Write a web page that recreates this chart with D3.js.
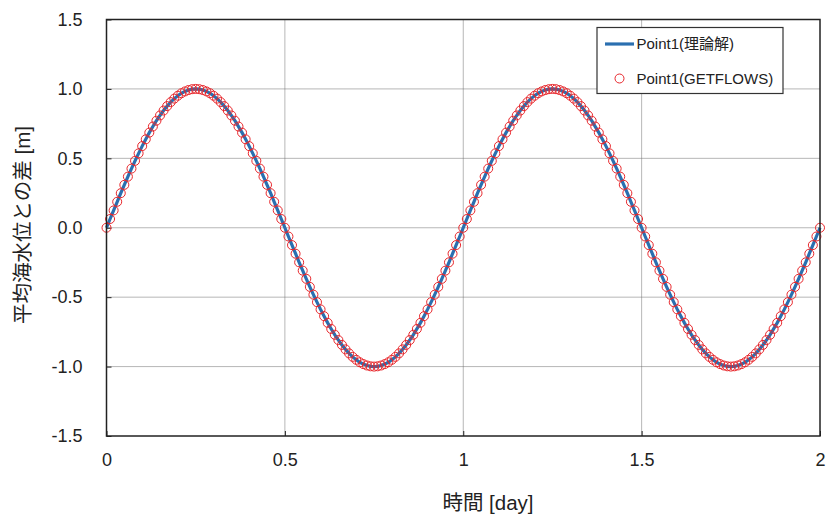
<!DOCTYPE html>
<html><head><meta charset="utf-8">
<script src="https://cdn.jsdelivr.net/npm/d3@7"></script>
<style>
html,body{margin:0;padding:0;background:#fff;}
svg{display:block;}
text{font-family:"Liberation Sans",Arial,"Noto Sans CJK JP",sans-serif;fill:#222;}
</style></head>
<body><svg id="chart" width="830" height="523"></svg>
<script>
const timeDays = [0,0.01,0.02,0.03,0.04,0.05,0.06,0.07,0.08,0.09,0.1,0.11,0.12,0.13,0.14,0.15,0.16,0.17,0.18,0.19,0.2,0.21,0.22,0.23,0.24,0.25,0.26,0.27,0.28,0.29,0.3,0.31,0.32,0.33,0.34,0.35,0.36,0.37,0.38,0.39,0.4,0.41,0.42,0.43,0.44,0.45,0.46,0.47,0.48,0.49,0.5,0.51,0.52,0.53,0.54,0.55,0.56,0.57,0.58,0.59,0.6,0.61,0.62,0.63,0.64,0.65,0.66,0.67,0.68,0.69,0.7,0.71,0.72,0.73,0.74,0.75,0.76,0.77,0.78,0.79,0.8,0.81,0.82,0.83,0.84,0.85,0.86,0.87,0.88,0.89,0.9,0.91,0.92,0.93,0.94,0.95,0.96,0.97,0.98,0.99,1,1.01,1.02,1.03,1.04,1.05,1.06,1.07,1.08,1.09,1.1,1.11,1.12,1.13,1.14,1.15,1.16,1.17,1.18,1.19,1.2,1.21,1.22,1.23,1.24,1.25,1.26,1.27,1.28,1.29,1.3,1.31,1.32,1.33,1.34,1.35,1.36,1.37,1.38,1.39,1.4,1.41,1.42,1.43,1.44,1.45,1.46,1.47,1.48,1.49,1.5,1.51,1.52,1.53,1.54,1.55,1.56,1.57,1.58,1.59,1.6,1.61,1.62,1.63,1.64,1.65,1.66,1.67,1.68,1.69,1.7,1.71,1.72,1.73,1.74,1.75,1.76,1.77,1.78,1.79,1.8,1.81,1.82,1.83,1.84,1.85,1.86,1.87,1.88,1.89,1.9,1.91,1.92,1.93,1.94,1.95,1.96,1.97,1.98,1.99,2];

const theoryValues = [
0,0.063,0.125,0.187,0.249,0.309,0.368,0.426,0.482,0.536,0.588,0.637,0.685,0.729,0.771,0.809,0.844,0.876,0.905,0.930,0.951,0.969,0.982,0.992,0.998,1.000,
0.998,0.992,0.982,0.969,0.951,0.930,0.905,0.876,0.844,0.809,0.771,0.729,0.685,0.637,0.588,0.536,0.482,0.426,0.368,0.309,0.249,0.187,0.125,0.063,0,
-0.063,-0.125,-0.187,-0.249,-0.309,-0.368,-0.426,-0.482,-0.536,-0.588,-0.637,-0.685,-0.729,-0.771,-0.809,-0.844,-0.876,-0.905,-0.930,-0.951,-0.969,-0.982,-0.992,-0.998,-1.000,
-0.998,-0.992,-0.982,-0.969,-0.951,-0.930,-0.905,-0.876,-0.844,-0.809,-0.771,-0.729,-0.685,-0.637,-0.588,-0.536,-0.482,-0.426,-0.368,-0.309,-0.249,-0.187,-0.125,-0.063,
0,0.063,0.125,0.187,0.249,0.309,0.368,0.426,0.482,0.536,0.588,0.637,0.685,0.729,0.771,0.809,0.844,0.876,0.905,0.930,0.951,0.969,0.982,0.992,0.998,1.000,
0.998,0.992,0.982,0.969,0.951,0.930,0.905,0.876,0.844,0.809,0.771,0.729,0.685,0.637,0.588,0.536,0.482,0.426,0.368,0.309,0.249,0.187,0.125,0.063,0,
-0.063,-0.125,-0.187,-0.249,-0.309,-0.368,-0.426,-0.482,-0.536,-0.588,-0.637,-0.685,-0.729,-0.771,-0.809,-0.844,-0.876,-0.905,-0.930,-0.951,-0.969,-0.982,-0.992,-0.998,-1.000,
-0.998,-0.992,-0.982,-0.969,-0.951,-0.930,-0.905,-0.876,-0.844,-0.809,-0.771,-0.729,-0.685,-0.637,-0.588,-0.536,-0.482,-0.426,-0.368,-0.309,-0.249,-0.187,-0.125,-0.063,
0];

const getflowsValues = [
0,0.063,0.125,0.187,0.249,0.309,0.368,0.426,0.482,0.536,0.588,0.637,0.685,0.729,0.771,0.809,0.844,0.876,0.905,0.930,0.951,0.969,0.982,0.992,0.998,1.000,
0.998,0.992,0.982,0.969,0.951,0.930,0.905,0.876,0.844,0.809,0.771,0.729,0.685,0.637,0.588,0.536,0.482,0.426,0.368,0.309,0.249,0.187,0.125,0.063,0,
-0.063,-0.125,-0.187,-0.249,-0.309,-0.368,-0.426,-0.482,-0.536,-0.588,-0.637,-0.685,-0.729,-0.771,-0.809,-0.844,-0.876,-0.905,-0.930,-0.951,-0.969,-0.982,-0.992,-0.998,-1.000,
-0.998,-0.992,-0.982,-0.969,-0.951,-0.930,-0.905,-0.876,-0.844,-0.809,-0.771,-0.729,-0.685,-0.637,-0.588,-0.536,-0.482,-0.426,-0.368,-0.309,-0.249,-0.187,-0.125,-0.063,
0,0.063,0.125,0.187,0.249,0.309,0.368,0.426,0.482,0.536,0.588,0.637,0.685,0.729,0.771,0.809,0.844,0.876,0.905,0.930,0.951,0.969,0.982,0.992,0.998,1.000,
0.998,0.992,0.982,0.969,0.951,0.930,0.905,0.876,0.844,0.809,0.771,0.729,0.685,0.637,0.588,0.536,0.482,0.426,0.368,0.309,0.249,0.187,0.125,0.063,0,
-0.063,-0.125,-0.187,-0.249,-0.309,-0.368,-0.426,-0.482,-0.536,-0.588,-0.637,-0.685,-0.729,-0.771,-0.809,-0.844,-0.876,-0.905,-0.930,-0.951,-0.969,-0.982,-0.992,-0.998,-1.000,
-0.998,-0.992,-0.982,-0.969,-0.951,-0.930,-0.905,-0.876,-0.844,-0.809,-0.771,-0.729,-0.685,-0.637,-0.588,-0.536,-0.482,-0.426,-0.368,-0.309,-0.249,-0.187,-0.125,-0.063,
0];

const xTicks = [0, 0.5, 1, 1.5, 2];
const xTickLabels = ["0", "0.5", "1", "1.5", "2"];
const yTicks = [-1.5, -1.0, -0.5, 0, 0.5, 1.0, 1.5];
const yTickLabels = ["-1.5", "-1.0", "-0.5", "0.0", "0.5", "1.0", "1.5"];
const seriesNames = ["Point1(理論解)", "Point1(GETFLOWS)"];
const xTitle = "時間 [day]";
const yTitle = "平均海水位との差 [m]";

const W = 830, H = 523;
const m = {left: 106.5, right: 10, top: 19.5, bottom: 87};
const svg = d3.select("#chart");
const x = d3.scaleLinear().domain([0, 2]).range([m.left, W - m.right]);
const y = d3.scaleLinear().domain([-1.5, 1.5]).range([H - m.bottom, m.top]);

const lineColor = "#2a6fb0";
const markerColor = "#e8262b";

// grid
const grid = svg.append("g");
grid.selectAll("line.gx").data(xTicks.slice(1, -1)).join("line")
  .attr("x1", d => x(d)).attr("x2", d => x(d))
  .attr("y1", y(1.5)).attr("y2", y(-1.5))
  .attr("stroke", "#6e6e6e").attr("stroke-width", 1).attr("stroke-dasharray", "1,1");
grid.selectAll("line.gy").data(yTicks.slice(1, -1)).join("line")
  .attr("y1", d => y(d)).attr("y2", d => y(d))
  .attr("x1", x(0)).attr("x2", x(2))
  .attr("stroke", "#6e6e6e").attr("stroke-width", 1).attr("stroke-dasharray", "1,1");

// axes
const xAxis = d3.axisBottom(x).tickValues(xTicks).tickFormat((d, i) => xTickLabels[i]).tickSizeInner(-5).tickSizeOuter(0).tickPadding(17);
const yAxis = d3.axisLeft(y).tickValues(yTicks).tickFormat((d, i) => yTickLabels[i]).tickSizeInner(-5).tickSizeOuter(0).tickPadding(24);
const gx = svg.append("g").attr("transform", `translate(0,${y(-1.5)})`).call(xAxis);
const gy = svg.append("g").attr("transform", `translate(${x(0)},0)`).call(yAxis);
[gx, gy].forEach(g => {
  g.select(".domain").remove();
  g.selectAll(".tick line").attr("stroke", "#222").attr("stroke-width", 1);
  g.selectAll(".tick text").attr("font-size", 18).attr("fill", "#222")
    .attr("font-family", "'Liberation Sans', Arial, sans-serif");
});

// data
const pts = timeDays.map((t, i) => ({t, v: theoryValues[i], g: getflowsValues[i]}));
svg.append("path").datum(pts)
  .attr("fill", "none").attr("stroke", lineColor).attr("stroke-width", 3.2)
  .attr("d", d3.line().x(d => x(d.t)).y(d => y(d.v)));
svg.append("g").selectAll("circle").data(pts).join("circle")
  .attr("cx", d => x(d.t)).attr("cy", d => y(d.g)).attr("r", 4.5)
  .attr("fill", "none").attr("stroke", markerColor).attr("stroke-width", 1);

// frame
svg.append("rect").attr("x", x(0)).attr("y", y(1.5))
  .attr("width", x(2) - x(0)).attr("height", y(-1.5) - y(1.5))
  .attr("fill", "none").attr("stroke", "#222").attr("stroke-width", 1.5);

// legend
const lg = svg.append("g");
lg.append("rect").attr("x", 597).attr("y", 27.5).attr("width", 186).attr("height", 66)
  .attr("fill", "#fff").attr("stroke", "#333").attr("stroke-width", 1.2);
lg.append("line").attr("x1", 605).attr("x2", 634).attr("y1", 44).attr("y2", 44)
  .attr("stroke", lineColor).attr("stroke-width", 3.2);
lg.append("circle").attr("cx", 619.5).attr("cy", 78.5).attr("r", 4.5)
  .attr("fill", "none").attr("stroke", markerColor).attr("stroke-width", 1);
lg.selectAll("text").data(seriesNames).join("text")
  .attr("x", 636.5).attr("y", (d, i) => i === 0 ? 44 : 78.5)
  .attr("dy", "0.36em").attr("font-size", 15).text(d => d);

// titles
svg.append("text").attr("x", 488).attr("y", 510).attr("text-anchor", "middle")
  .attr("font-size", 20.5).text(xTitle);
svg.append("text").attr("transform", "translate(30,225) rotate(-90)")
  .attr("text-anchor", "middle").attr("font-size", 20.5).text(yTitle);
</script></body></html>
